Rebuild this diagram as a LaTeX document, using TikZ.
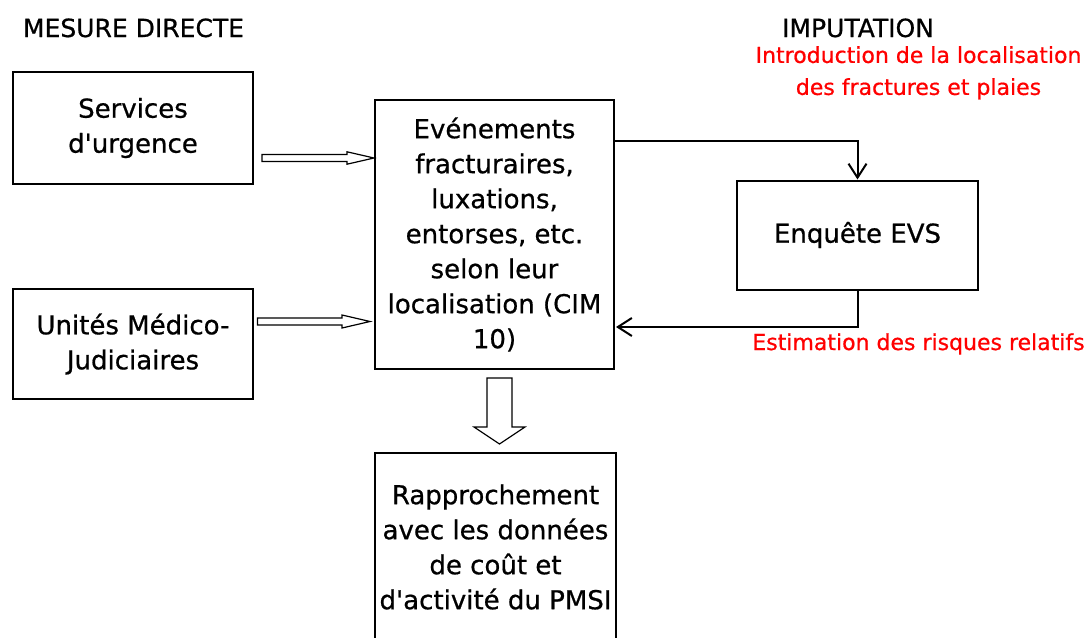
\documentclass[tikz,border=0pt]{standalone}
\usepackage{fontspec}
\setmainfont{DejaVu Sans}[Ligatures=TeXOff, FakeBold=0.7]
\usetikzlibrary{calc,arrows.meta}
\tikzset{
  box/.style={draw, line width=2pt, inner sep=0pt, align=center,
    font=\fontsize{26}{35}\selectfont, minimum width=240pt},
  header/.style={anchor=base, inner sep=0pt, font=\fontsize{25}{30}\selectfont},
  redtxt/.style={inner sep=0pt, text=red, align=center, font=\fontsize{22}{32}\selectfont},
  conn/.style={line width=2pt, -{Straight Barb[length=14pt,width=18pt,line width=2pt]}},
  blockarrow/.style={draw, line width=1.2pt, fill=white, line join=miter}
}
\begin{document}
\begin{tikzpicture}[x=1pt,y=-1pt]
\useasboundingbox[fill=white] (0,0) rectangle (1091,637);

% headers
\node[header] (h1) at (133.5,37) {MESURE DIRECTE};
\node[header] (h2) at (858,37) {IMPUTATION};

% boxes
\node[box, minimum height=112pt] (svc) at (133,128) {Services\\d'urgence};
\node[box, minimum height=110pt] (umj) at (133,344) {Unités Médico-\\Judiciaires};
\node[box, minimum width=239pt, minimum height=269pt] (central) at (494.5,234.5)
  {Evénements\\fracturaires,\\luxations,\\entorses, etc.\\selon leur\\localisation (CIM\\10)};
\node[box, minimum width=241pt, minimum height=109pt] (enq) at (857.5,235) {Enquête EVS};
\node[box, minimum width=241pt, minimum height=188pt] (rap) at (495.5,547)
  {Rapprochement\\avec les données\\de coût et\\d'activité du PMSI};

% red labels
\node[redtxt, anchor=north] (intro) at (918.5,46) {Introduction de la localisation\\des fractures et plaies};
\node[redtxt, anchor=base] (estim) at (918.5,350) {Estimation des risques relatifs};

% block arrows into central box
\coordinate (a1) at (262,158);
\coordinate (t1) at (central.west |- a1);
\draw[blockarrow] ($(a1)+(0,-3.5)$) -- ($(t1)+(-27,-3.5)$) -- ($(t1)+(-27,-6.2)$) -- (t1)
  -- ($(t1)+(-27,6.2)$) -- ($(t1)+(-27,3.5)$) -- ($(a1)+(0,3.5)$) -- cycle;
\coordinate (a2) at (257.5,321.5);
\coordinate (t2) at ($(central.west |- a2)+(-4,0)$);
\draw[blockarrow] ($(a2)+(0,-3.5)$) -- ($(t2)+(-28,-3.5)$) -- ($(t2)+(-28,-6.5)$) -- (t2)
  -- ($(t2)+(-28,6.5)$) -- ($(t2)+(-28,3.5)$) -- ($(a2)+(0,3.5)$) -- cycle;

% block arrow down
\coordinate (d0) at (499.5,378);
\draw[blockarrow] ($(d0)+(-12.5,0)$) -- ($(d0)+(12.5,0)$) -- ($(d0)+(12.5,49)$)
  -- ($(d0)+(25.5,49)$) -- ($(d0)+(0,66)$) -- ($(d0)+(-25.5,49)$)
  -- ($(d0)+(-12.5,49)$) -- cycle;

% connectors with Enquete EVS
\coordinate (c1) at ($(central.north east)+(0,42)$);
\draw[conn] (c1) -| (enq.north);
\coordinate (c2) at ($(central.north east)+(1,228)$);
\draw[conn] (enq.south) |- (c2);
\end{tikzpicture}
\end{document}
